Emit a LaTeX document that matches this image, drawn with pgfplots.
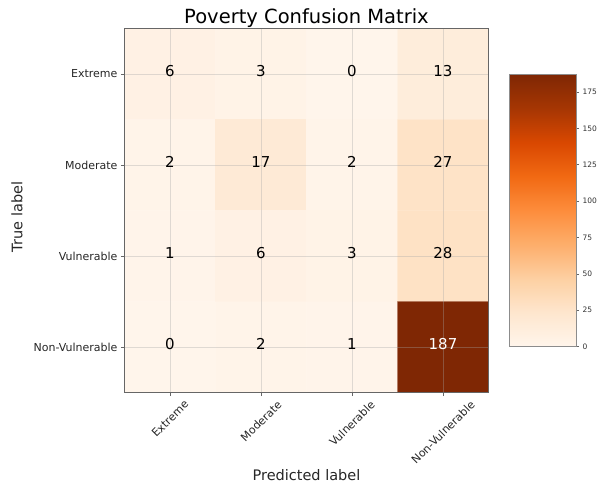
\documentclass[border=0pt]{standalone}
\usepackage{fontspec}
\setmainfont{DejaVu Sans}
\usepackage{graphicx}
\usepackage{pgfplots}
\usepackage{pgfplotstable}
\pgfplotsset{compat=1.18}
\pgfplotsset{/pgf/number format/assume math mode=true}

\pgfplotstableread{
x y c
0 0 6
1 0 3
2 0 0
3 0 13
0 1 2
1 1 17
2 1 2
3 1 27
0 2 1
1 2 6
2 2 3
3 2 28
0 3 0
1 3 2
2 3 1
3 3 187
}\cmdata

\begin{document}
\begin{tikzpicture}
\useasboundingbox (-124.5pt,-93.5pt) rectangle (474.5pt,392.5pt);
\begin{axis}[
  scale only axis, width=364pt, height=364pt,
  xmin=-0.5, xmax=3.5, ymin=-0.5, ymax=3.5, y dir=reverse,
  xtick={0,1,2,3}, ytick={0,1,2,3},
  xtick pos=left, ytick pos=left,
  xticklabels={\rotatebox{45}{Extreme},\rotatebox{45}{Moderate},\rotatebox{45}{Vulnerable},\rotatebox{45}{Non-Vulnerable}},
  yticklabels={Extreme,Moderate,Vulnerable,Non-Vulnerable},
  ticklabel style={font=\fontsize{11}{13}\selectfont, text=black!85},
  xticklabel style={anchor=north},
  tick align=outside, major tick length=3.5pt,
  tick style={black!60, line width=0.6pt},
  axis line style={black!60, line width=0.8pt},
  grid=major, major grid style={black!35, opacity=0.35, line width=0.9pt},
  axis on top,
  colormap={oranges}{rgb255(0)=(255,245,235) rgb255(1)=(254,230,206) rgb255(2)=(253,208,162) rgb255(3)=(253,174,107) rgb255(4)=(253,141,60) rgb255(5)=(241,105,19) rgb255(6)=(217,72,1) rgb255(7)=(166,54,3) rgb255(8)=(127,39,4)},
  point meta min=0, point meta max=187,
  colorbar,
  colorbar/width=67pt,
  colorbar style={
    at={(parent axis.east)}, anchor=west, xshift=12pt,
    scale only axis, width=67pt, height=272pt,
    ymin=0, ymax=187, y dir=normal,
    ytick={0,25,50,75,100,125,150,175},
    ytick pos=right, yticklabel pos=right,
    yticklabel style={font=\fontsize{7.5}{9}\selectfont, text=black!80},
    tick align=outside, major tick length=3pt,
    tick style={black!60, line width=0.5pt},
    axis line style={black!45, line width=0.8pt},
    grid=none,
  },
  title={Poverty Confusion Matrix},
  title style={font=\fontsize{19.5}{22}\selectfont, at={(axis description cs:0.5,1)}, anchor=base, yshift=-0.5pt},
  xlabel={Predicted label},
  xlabel style={font=\fontsize{14.5}{17}\selectfont, at={(axis description cs:0.5,-0.2431)}, anchor=base, text=black!85},
  ylabel={True label},
  ylabel style={font=\fontsize{14.5}{17}\selectfont, at={(axis description cs:-0.2808,0.482)}, anchor=base, rotate=0, text=black!85},
]
\addplot[matrix plot*, mesh/cols=4, point meta=explicit] table[x=x, y=y, meta=c] {\cmdata};
\addplot[only marks, mark=*, mark size=0pt, mark options={draw=none, fill=none},
  point meta=explicit symbolic, nodes near coords,
  nodes near coords style={anchor=center, font=\fontsize{15}{18}\selectfont, text=black, yshift=3pt}]
  coordinates {(0,0)[6] (1,0)[3] (2,0)[0] (3,0)[13]
               (0,1)[2] (1,1)[17] (2,1)[2] (3,1)[27]
               (0,2)[1] (1,2)[6] (2,2)[3] (3,2)[28]
               (0,3)[0] (1,3)[2] (2,3)[1]};
\addplot[only marks, mark=*, mark size=0pt, mark options={draw=none, fill=none},
  point meta=explicit symbolic, nodes near coords,
  nodes near coords style={anchor=center, font=\fontsize{15}{18}\selectfont, text=white, yshift=3pt}]
  coordinates {(3,3)[187]};
\end{axis}
\end{tikzpicture}
\end{document}
